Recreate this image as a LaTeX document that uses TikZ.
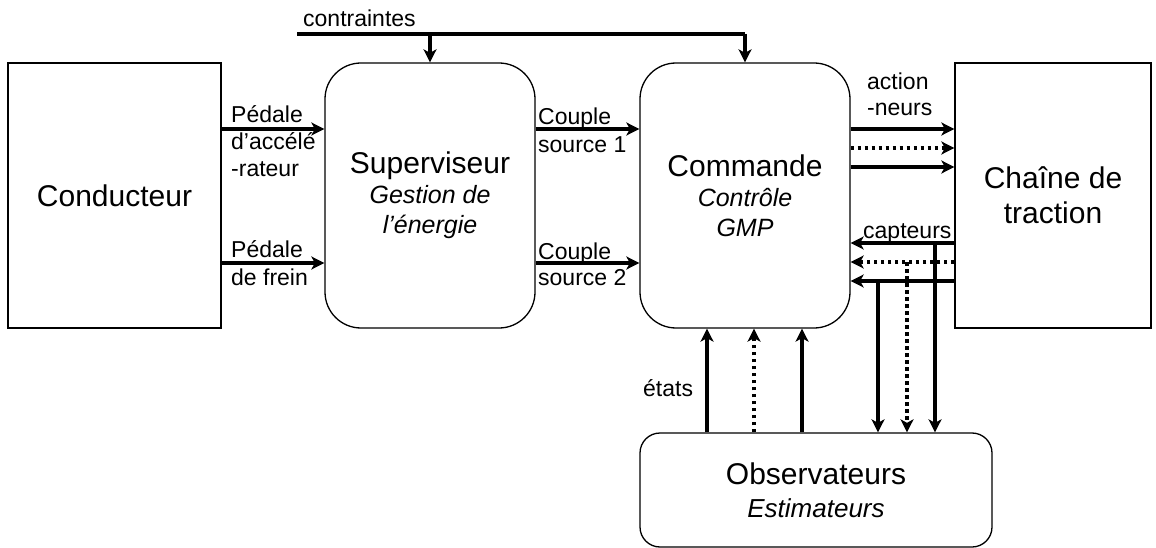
\documentclass[tikz,border=0pt]{standalone}
\usepackage{fontspec}
\setmainfont{Liberation Sans}
\usetikzlibrary{arrows.meta}
\begin{document}
\begin{tikzpicture}[x=1pt,y=-1pt,
  box/.style={draw, line width=1.3pt, inner sep=0pt, align=center},
  rbox/.style={box, rounded corners=36pt},
  arr/.style={line width=3.2pt, -{Stealth[length=13pt,width=13pt,inset=3.5pt]}},
  dotarr/.style={arr, dash pattern=on 3.5pt off 3.5pt},
  plain/.style={line width=3.2pt},
  lbl/.style={anchor=base west, inner sep=0pt, font=\fontsize{23}{23}\selectfont},
  twoline/.style={font=\fontsize{25}{30}\selectfont\itshape}]
\useasboundingbox (0,0) rectangle (1156,548);

% boxes
\node[box, minimum width=213pt, minimum height=265pt, font=\fontsize{30}{30}\selectfont] (cond) at (114.5,195.5) {Conducteur};
\node[rbox, minimum width=210pt, minimum height=265pt, twoline] (sup) at (430,195.5)
  {{\fontsize{30}{30}\selectfont\upshape Superviseur}\\Gestion de\\l’énergie};
\node[rbox, minimum width=210pt, minimum height=265pt, twoline] (cmd) at (745,195.5)
  {{\fontsize{30}{30}\selectfont\upshape Commande}\\Contrôle\\GMP};
\node[box, minimum width=196pt, minimum height=265pt, font=\fontsize{30}{35}\selectfont] (chain) at (1053,195.5)
  {Chaîne de\\traction};
\node[box, rounded corners=20pt, minimum width=352pt, minimum height=114pt, font=\fontsize{26}{33}\selectfont\itshape] (obs) at (816,490)
  {{\fontsize{30}{30}\selectfont\upshape Observateurs}\\Estimateurs};

% contraintes
\coordinate (cstart) at (297,34);
\draw[plain] (cstart) -- (cmd.north |- cstart);
\draw[arr] (sup.north |- cstart) -- (sup.north);
\draw[arr] (cmd.north |- cstart) -- (cmd.north);
\node[lbl] (lcon) at (303,27) {contraintes};

% pedals
\draw[arr] (cond.east |- 0,129) -- (sup.west |- 0,129);
\draw[arr] (cond.east |- 0,263) -- (sup.west |- 0,263);
\node[lbl] (lp1) at (231,123) {Pédale};
\node[lbl] (lp2) at (231,150) {d’accélé};
\node[lbl] (lp3) at (231,177) {-rateur};
\node[lbl] (lp4) at (231,257) {Pédale};
\node[lbl] (lp5) at (231,285) {de frein};

% couples
\draw[arr] (sup.east |- 0,129) -- (cmd.west |- 0,129);
\draw[arr] (sup.east |- 0,263) -- (cmd.west |- 0,263);
\node[lbl] (lc1) at (538,125) {Couple};
\node[lbl] (lc2) at (538,153) {source 1};
\node[lbl] (lc3) at (538,259) {Couple};
\node[lbl] (lc4) at (538,285) {source 2};

% actionneurs
\draw[arr] (cmd.east |- 0,129) -- (chain.west |- 0,129);
\draw[dotarr] (cmd.east |- 0,148) -- (chain.west |- 0,148);
\draw[arr] (cmd.east |- 0,167) -- (chain.west |- 0,167);
\node[lbl] (la1) at (867,90) {action};
\node[lbl] (la2) at (867,116) {-neurs};

% capteurs
\draw[arr] (chain.west |- 0,243) -- (cmd.east |- 0,243);
\draw[dotarr] (chain.west |- 0,262) -- (cmd.east |- 0,262);
\draw[arr] (chain.west |- 0,281) -- (cmd.east |- 0,281);
\node[lbl] (lcap) at (863,238) {capteurs};

% down to observateurs
\coordinate (d1) at (935,243);
\coordinate (d2) at (907,262);
\coordinate (d3) at (878,281);
\draw[arr] (d1) -- (obs.north -| d1);
\draw[dotarr] (d2) -- (obs.north -| d2);
\draw[arr] (d3) -- (obs.north -| d3);

% up to commande (etats)
\draw[arr] (obs.north -| 707,0) -- (cmd.south -| 707,0);
\draw[dotarr] (obs.north -| 754,0) -- (cmd.south -| 754,0);
\draw[arr] (obs.north -| 802,0) -- (cmd.south -| 802,0);
\node[lbl] (let) at (643,396) {états};
\end{tikzpicture}
\end{document}
